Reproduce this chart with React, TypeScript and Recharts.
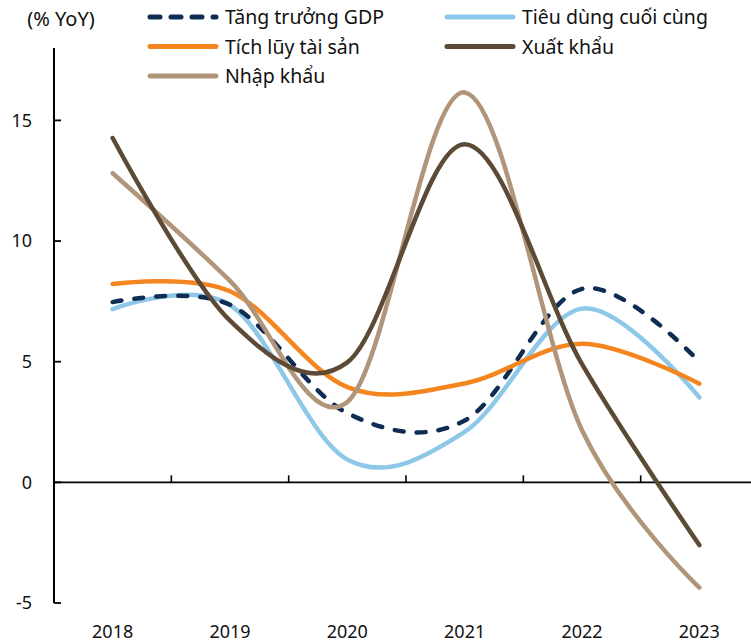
import { Line, LineChart, ReferenceLine, XAxis, YAxis } from "recharts";

const years = ["2018", "2019", "2020", "2021", "2022", "2023"];
const gdp = [7.47, 7.36, 2.87, 2.56, 8.02, 5.0];
const consumption = [7.18, 7.35, 0.95, 2.09, 7.2, 3.52];
const accumulation = [8.22, 7.92, 3.95, 4.1, 5.74, 4.09];
const exportsGrowth = [14.27, 6.7, 4.97, 14.01, 4.9, -2.6];
const importsGrowth = [12.81, 8.35, 3.33, 16.16, 2.16, -4.36];
const yTicks = [-5, 0, 5, 10, 15];

const series = [
  { key: "consumption", name: "Tiêu dùng cuối cùng", color: "#8ec8e8", dash: undefined as string | undefined },
  { key: "gdp", name: "Tăng trưởng GDP", color: "#0f2d52", dash: "9 13" },
  { key: "accumulation", name: "Tích lũy tài sản", color: "#f5861f", dash: undefined },
  { key: "imports", name: "Nhập khẩu", color: "#b0957a", dash: undefined },
  { key: "exports", name: "Xuất khẩu", color: "#5d4a36", dash: undefined },
];

// legend slots: [column, row]
const legendOrder: { key: string; col: number; row: number }[] = [
  { key: "gdp", col: 0, row: 0 },
  { key: "consumption", col: 1, row: 0 },
  { key: "accumulation", col: 0, row: 1 },
  { key: "exports", col: 1, row: 1 },
  { key: "imports", col: 0, row: 2 },
];

// one row per year, x = band centre on a 0..6 scale
const data = years.map((year, i) => ({
  x: i + 0.5,
  year,
  gdp: gdp[i],
  consumption: consumption[i],
  accumulation: accumulation[i],
  exports: exportsGrowth[i],
  imports: importsGrowth[i],
}));

// Excel-like smoothed line: Catmull-Rom bezier, endpoint control = endpoint
const smooth = (context: any) => {
  let pts: number[][] = [];
  return {
    areaStart() {},
    areaEnd() {},
    lineStart() {
      pts = [];
    },
    point(x: number, y: number) {
      pts.push([+x, +y]);
    },
    lineEnd() {
      const n = pts.length;
      if (!n) return;
      context.moveTo(pts[0][0], pts[0][1]);
      for (let i = 0; i < n - 1; i++) {
        const p1 = pts[i];
        const p2 = pts[i + 1];
        const p0 = i > 0 ? pts[i - 1] : p2;
        const p3 = i + 2 < n ? pts[i + 2] : p1;
        context.bezierCurveTo(
          p1[0] + (p2[0] - p0[0]) / 6,
          p1[1] + (p2[1] - p0[1]) / 6,
          p2[0] - (p3[0] - p1[0]) / 6,
          p2[1] - (p3[1] - p1[1]) / 6,
          p2[0],
          p2[1]
        );
      }
    },
  };
};

const font = "'Noto Sans', sans-serif";

function YTick(props: any) {
  const { x, y, payload } = props;
  return (
    <g>
      <line x1={x + 22} x2={x + 29} y1={y} y2={y} stroke="#000" strokeWidth={1.8} />
      <text x={x} y={y} dy="0.355em" textAnchor="end" fontSize={18} fill="#111" fontFamily={font}>
        {payload.value}
      </text>
    </g>
  );
}

export default function App() {
  return (
    <div
      style={{
        position: "absolute",
        left: 0,
        top: 0,
        width: 751,
        height: 642,
        overflow: "hidden",
        background: "#fff",
        fontFamily: font,
      }}
    >
      <LineChart width={760} height={642} data={data} margin={{ top: 48, right: 2, bottom: 0, left: 0 }}>
        <XAxis
          dataKey="x"
          type="number"
          domain={[0, years.length]}
          ticks={data.map((d) => d.x)}
          tickFormatter={(v) => years[Math.round(v - 0.5)]}
          axisLine={false}
          tickLine={false}
          tickSize={0}
          tickMargin={22}
          height={39}
          interval={0}
          tick={{ fontSize: 18, fill: "#111", fontFamily: font }}
        />
        <YAxis
          type="number"
          domain={[-5, 18]}
          ticks={yTicks}
          width={54}
          interval={0}
          tickSize={0}
          tickMargin={22}
          tickLine={false}
          axisLine={{ stroke: "#000", strokeWidth: 2 }}
          tick={<YTick />}
        />
        <ReferenceLine y={0} stroke="#000" strokeWidth={1.6} />
        {years.slice(1).map((_, i) => (
          <ReferenceLine
            key={i}
            segment={[
              { x: i + 1, y: 0 },
              { x: i + 1, y: 0.29 },
            ]}
            stroke="#000"
            strokeWidth={1.6}
          />
        ))}
        {series.map((s) => (
          <Line
            key={s.key}
            dataKey={s.key}
            name={s.name}
            type={smooth as any}
            stroke={s.color}
            strokeWidth={4.5}
            strokeDasharray={s.dash}
            strokeLinecap="round"
            dot={false}
            activeDot={false}
            isAnimationActive={false}
          />
        ))}
      </LineChart>

      <svg width={751} height={100} style={{ position: "absolute", left: 0, top: 0 }}>
        <text x={61} y={26} textAnchor="middle" fontSize={20} fill="#111" fontFamily={font}>
          (% YoY)
        </text>
        {legendOrder.map((l) => {
          const s = series.find((q) => q.key === l.key)!;
          const x0 = l.col === 0 ? 148 : 445;
          const cy = 17 + l.row * 29.5;
          return (
            <g key={l.key}>
              <line
                x1={x0 + 2}
                x2={x0 + 68}
                y1={cy}
                y2={cy}
                stroke={s.color}
                strokeWidth={5}
                strokeLinecap="round"
                strokeDasharray={s.dash ? "10 11" : undefined}
              />
              <text x={x0 + 77} y={cy + 7} fontSize={19.5} fill="#111" fontFamily={font}>
                {s.name}
              </text>
            </g>
          );
        })}
      </svg>
    </div>
  );
}
